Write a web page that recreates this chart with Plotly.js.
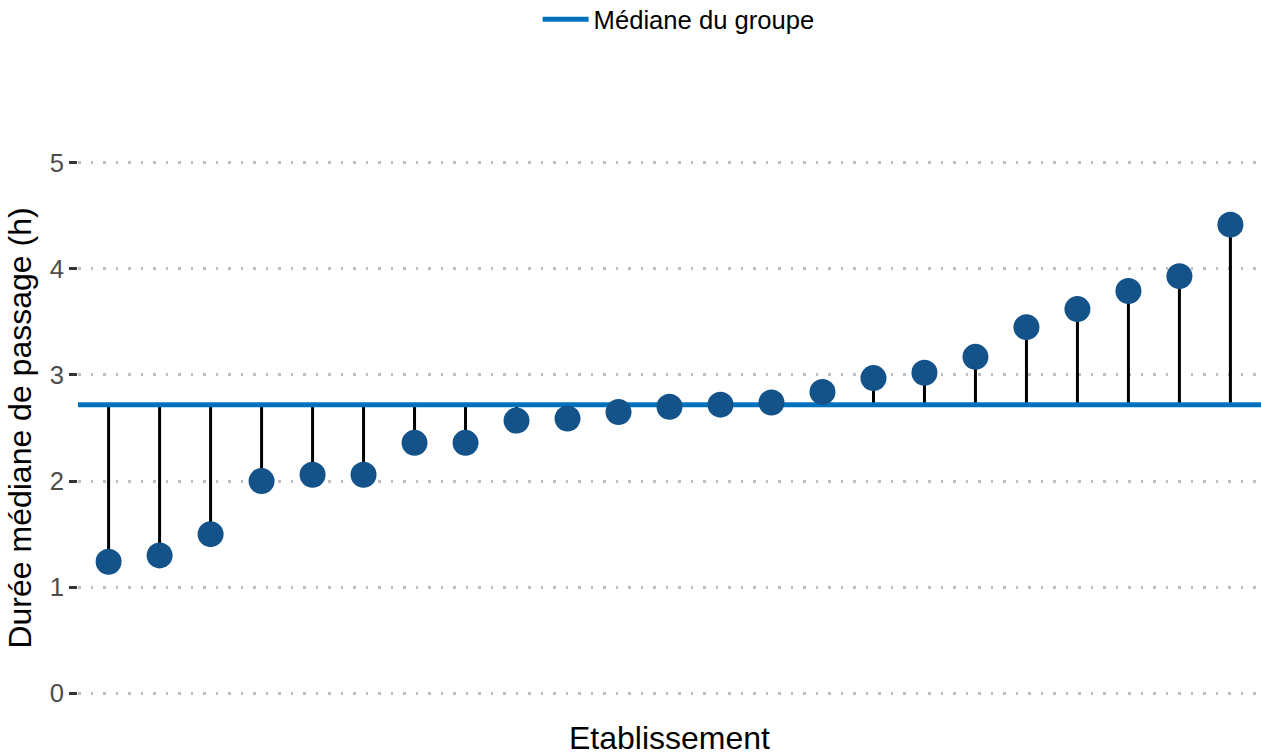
<!DOCTYPE html>
<html>
<head>
<meta charset="utf-8">
<script src="https://cdn.plot.ly/plotly-3.0.1.min.js"></script>
<style>html,body{margin:0;padding:0;background:#fff;}#chart{width:1261px;height:756px;}</style>
</head>
<body>
<div id="chart"></div>
<script>
// Data
const etablissements = ["E01","E02","E03","E04","E05","E06","E07","E08","E09","E10","E11","E12",
                        "E13","E14","E15","E16","E17","E18","E19","E20","E21","E22","E23"];
const dureeMediane = [1.24, 1.30, 1.50, 2.00, 2.06, 2.06, 2.36, 2.36, 2.57, 2.59, 2.65, 2.70,
                      2.72, 2.74, 2.84, 2.97, 3.02, 3.17, 3.45, 3.62, 3.79, 3.93, 4.415];
const medianeGroupe = 2.72;
const yTicks = [0, 1, 2, 3, 4, 5];

const idx = etablissements.map((_, i) => i);

// stems from group median to each value
const stemX = [], stemY = [];
idx.forEach(i => { stemX.push(i, i, null); stemY.push(medianeGroupe, dureeMediane[i], null); });

const FONT = "Liberation Sans, Arial, sans-serif";

const traces = [
  {
    x: stemX, y: stemY, mode: "lines", type: "scatter",
    line: {color: "#000000", width: 3}, showlegend: false, hoverinfo: "skip"
  },
  {
    x: [-0.6, 22.6], y: [medianeGroupe, medianeGroupe], mode: "lines", type: "scatter",
    name: "Médiane du groupe", line: {color: "#0072BD", width: 5}, showlegend: true
  },
  {
    x: idx, y: dureeMediane, mode: "markers", type: "scatter",
    text: etablissements, hovertemplate: "%{text}: %{y:.2f} h<extra></extra>",
    marker: {color: "#13538A", size: 26}, showlegend: false
  }
];

const layout = {
  width: 1261, height: 756,
  margin: {l: 78, r: 0, t: 136, b: 36, autoexpand: false},
  paper_bgcolor: "#ffffff", plot_bgcolor: "#ffffff",
  font: {family: FONT, color: "#000000"},
  showlegend: true,
  legend: {
    orientation: "h", x: 0.5077, xanchor: "center", y: 1.2397, yanchor: "top",
    itemwidth: 46,
    font: {family: FONT, size: 25.6, color: "#000000"}
  },
  xaxis: {
    range: [-0.6, 22.6], showgrid: false, zeroline: false, showline: false,
    showticklabels: false, ticks: "", fixedrange: true,
    title: {text: "Etablissement", font: {family: FONT, size: 32, color: "#000000"}, standoff: 6},
    automargin: false
  },
  yaxis: {
    range: [-0.25, 5.25], tickvals: yTicks, ticktext: yTicks.map(String),
    showgrid: true, gridcolor: "#BEBEBE", gridwidth: 2.5, griddash: "2.5px,10px",
    zeroline: false, showline: false,
    ticks: "outside", ticklen: 8, tickwidth: 2.7, tickcolor: "#333333",
    tickfont: {family: FONT, size: 25.6, color: "#4D4D4D"},
    ticklabelstandoff: 0,
    title: {text: "Durée médiane de passage (h)", font: {family: FONT, size: 32, color: "#000000"}, standoff: 8},
    automargin: false
  }
};

Plotly.newPlot("chart", traces, layout, {displayModeBar: false});
</script>
</body>
</html>
